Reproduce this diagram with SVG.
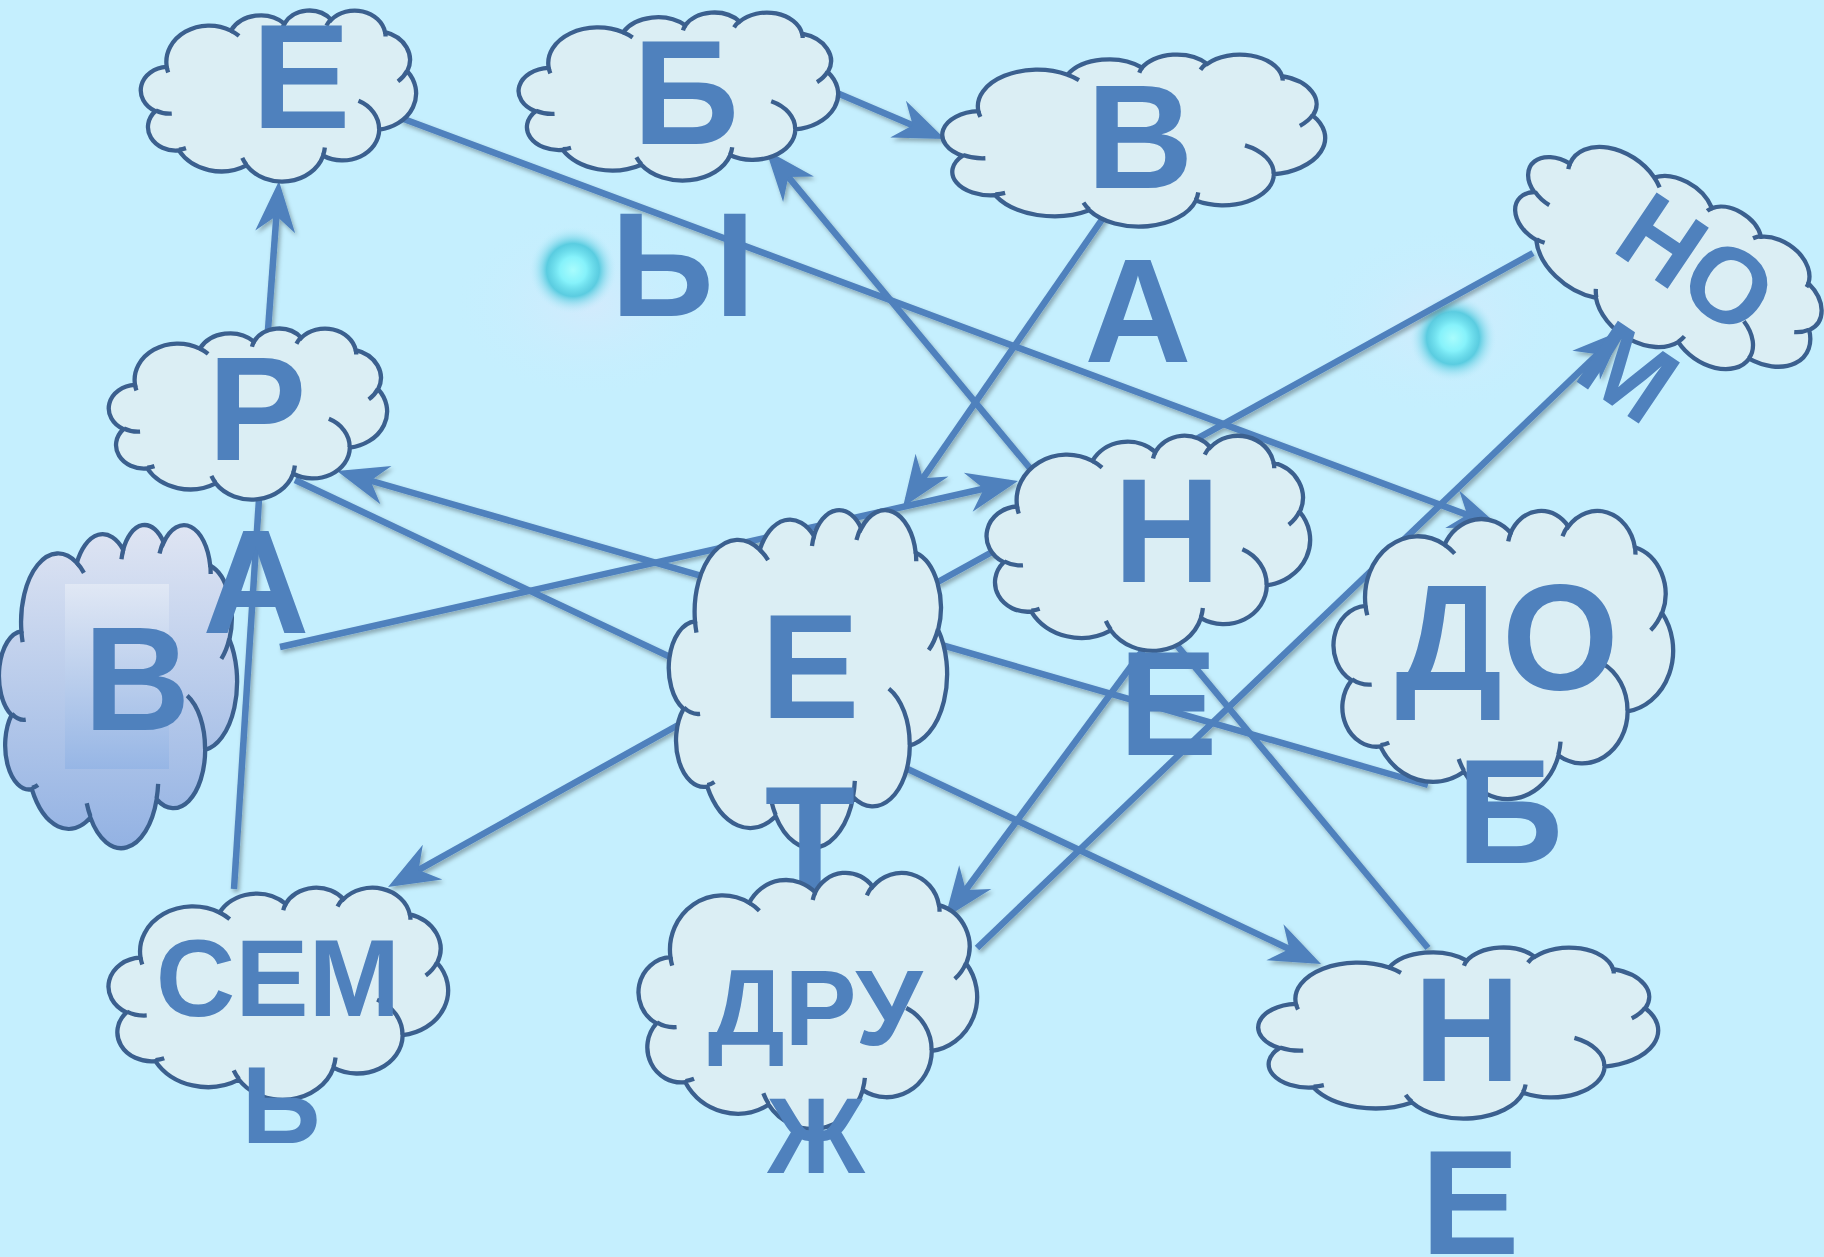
<svg xmlns="http://www.w3.org/2000/svg" xmlns:xlink="http://www.w3.org/1999/xlink" width="1824" height="1257" viewBox="0 0 1824 1257">
<style>
.t{font-family:"Liberation Sans",Arial,sans-serif;font-weight:bold;fill:#4f81bd;text-anchor:middle}
.big{font-size:148px}
.mid{font-size:110px}
.cloud{fill:#dbeef4;stroke:#3b608f;stroke-width:4.3}
.cloudg{fill:url(#gCloud);stroke:#3b608f;stroke-width:4.3}
.c{stroke:#4f81bd;stroke-width:6.5;fill:none}
.a{marker-end:url(#arr)}
</style>
<defs>
<g id="cloudShape">
<path vector-effect="non-scaling-stroke" d="M9.03,33.26 A15.63,21.27 0 0 1 32.42,12.04 A12.35,16.82 0 0 1 51.98,7.95 A10.1,13.76 0 0 1 69.06,5.75 A11.24,15.27 0 0 1 88.7,12.92 A12.35,16.84 0 0 1 96.8,35.79 A15.68,21.34 0 0 1 86.58,69.92 A13.39,18.21 0 0 1 66.1,85.22 A15.63,21.33 0 0 1 38.15,90.9 A17.87,24.41 0 0 1 13.43,82.11 A10.09,13.7 0 0 1 4.89,59.15 A10.06,13.76 0 0 1 9.03,33.26 Z"/>
<path vector-effect="non-scaling-stroke" fill="none" d="M10.86,60.6 A10.06,13.76 0 0 1 5,58.75 M16.04,80.78 A10.09,13.7 0 0 1 13.47,81.67 M38.14,90.49 A15.63,21.33 0 0 1 36.6,86.46 M66.73,80.44 A15.63,21.33 0 0 1 66.11,84.86 M79,53.13 A13.39,18.21 0 0 1 86.53,69.65 M96.75,35.54 A12.35,16.84 0 0 1 93.4,41.74 M88.71,12.56 A11.24,15.27 0 0 1 88.89,15.49 M67.31,9.15 A11.24,15.27 0 0 1 69.03,5.41 M51.25,10.93 A10.1,13.76 0 0 1 52.08,7.71 M32.41,12.02 A15.63,21.27 0 0 1 35.42,15.14 M9.55,36.55 A15.63,21.27 0 0 1 9.03,33.26"/>
</g>
<linearGradient id="gCloud" x1="0" y1="0" x2="0" y2="1">
<stop offset="0" stop-color="#dfe5f3"/>
<stop offset="1" stop-color="#93b2e3"/>
</linearGradient>
<linearGradient id="gRect" x1="0" y1="0" x2="0" y2="1">
<stop offset="0" stop-color="#e2e9f5"/>
<stop offset="1" stop-color="#95b5e5"/>
</linearGradient>
<radialGradient id="glow">
<stop offset="0" stop-color="#a8fcfd"/>
<stop offset="0.3" stop-color="#86f2fb"/>
<stop offset="0.6" stop-color="#3fc4d9" stop-opacity="0.8"/>
<stop offset="1" stop-color="#c5effe" stop-opacity="0"/>
</radialGradient>
<radialGradient id="halo">
<stop offset="0" stop-color="#d4eafc" stop-opacity="0.9"/>
<stop offset="1" stop-color="#c5effe" stop-opacity="0"/>
</radialGradient>
<filter id="sh" x="-5%" y="-5%" width="110%" height="110%">
<feDropShadow dx="2" dy="3" stdDeviation="2" flood-color="#000" flood-opacity="0.3"/>
</filter>
<marker id="arr" markerUnits="userSpaceOnUse" viewBox="-60 -25 70 50" refX="-9" refY="0" markerWidth="70" markerHeight="50" orient="auto" overflow="visible">
<path d="M0,0 L-51,-20 L-35,0 L-51,20 Z" fill="#4f81bd"/>
</marker>
</defs>
<rect width="1824" height="1257" fill="#c5effe"/>
<g id="decor">
<ellipse cx="590" cy="305" rx="140" ry="95" fill="url(#halo)"/>
<circle cx="573" cy="270" r="44" fill="url(#glow)"/>
<ellipse cx="1440" cy="320" rx="130" ry="95" fill="url(#halo)"/>
<circle cx="1453" cy="338" r="44" fill="url(#glow)"/>
</g>
<g id="connectors" filter="url(#sh)">
<line class="c a" x1="837" y1="93" x2="936.7" y2="135.5"/>
<line class="c a" x1="401" y1="118" x2="1491.6" y2="523.9"/>
<line class="c a" x1="268" y1="330" x2="278.3" y2="190"/>
<line class="c a" x1="1428" y1="948" x2="771.7" y2="156.9"/>
<line class="c a" x1="1110" y1="208" x2="908.1" y2="499.6"/>
<line class="c" x1="936" y1="583" x2="1533" y2="253"/>
<line class="c a" x1="977" y1="948" x2="1616.5" y2="336.2"/>
<line class="c a" x1="1428" y1="785" x2="345.6" y2="473.5"/>
<line class="c a" x1="295" y1="480" x2="1312.9" y2="960.2"/>
<line class="c a" x1="280" y1="647" x2="1009.2" y2="483"/>
<line class="c" x1="234" y1="889" x2="259" y2="499"/>
<line class="c a" x1="680" y1="724" x2="395.9" y2="882.6"/>
<line class="c a" x1="1180" y1="600" x2="950.3" y2="910.8"/>
</g>
<g id="node-E-top">
<use href="#cloudShape" class="cloud" transform="translate(142,10) scale(2.74,1.71)"/>
<text class="t big" x="301" y="128">Е</text>
</g>
<g id="node-B-top">
<use href="#cloudShape" class="cloud" transform="translate(520,12) scale(3.18,1.68)"/>
<text class="t big" x="686" y="144">Б</text>
<text class="t big" x="683" y="316">Ы</text>
</g>
<g id="node-V-top">
<use href="#cloudShape" class="cloud" transform="translate(944,54) scale(3.81,1.72)"/>
<text class="t big" x="1140" y="188">В</text>
<text class="t big" x="1138" y="362">А</text>
</g>
<g id="node-NO" transform="translate(1667,263) rotate(34)">
<use href="#cloudShape" class="cloud" transform="translate(-166,-84) scale(3.32,1.68)"/>
<text class="t" style="font-size:107px" x="25" y="21">НО</text>
<text class="t" style="font-size:107px" x="29" y="149">М</text>
</g>
<g id="node-R">
<use href="#cloudShape" class="cloud" transform="translate(110,328) scale(2.77,1.71)"/>
<text class="t big" x="257" y="460">Р</text>
</g>
<g id="node-V-left">
<use href="#cloudShape" class="cloudg" transform="translate(0,524) scale(2.37,3.23)"/>
<rect x="65" y="584" width="104" height="185" fill="url(#gRect)" opacity="0.9"/>
<text class="t big" x="137" y="730">В</text>
<text class="t big" x="256" y="633">А</text>
</g>
<g id="node-E-center">
<use href="#cloudShape" class="cloud" transform="translate(670,509) scale(2.77,3.38)"/>
<text class="t big" x="810" y="718">Е</text>
<text class="t big" x="810" y="890">Т</text>
</g>
<g id="node-N-mid">
<use href="#cloudShape" class="cloud" transform="translate(988,435) scale(3.22,2.15)"/>
<text class="t big" x="1167" y="582">Н</text>
<text class="t big" x="1168" y="755">Е</text>
</g>
<g id="node-DO">
<use href="#cloudShape" class="cloud" transform="translate(1335,510) scale(3.38,2.88)"/>
<text class="t" style="font-size:150px" x="1507" y="690">ДО</text>
<text class="t big" x="1510" y="863">Б</text>
</g>
<g id="node-SEM">
<use href="#cloudShape" class="cloud" transform="translate(110,887) scale(3.38,2.12)"/>
<text class="t mid" x="278" y="1016">СЕМ</text>
<text class="t mid" x="281" y="1143">Ь</text>
</g>
<g id="node-DRU">
<use href="#cloudShape" class="cloud" transform="translate(640,872) scale(3.37,2.56)"/>
<text class="t" style="font-size:108px" x="815" y="1045">ДРУ</text>
<text class="t" style="font-size:108px" x="816" y="1173">Ж</text>
</g>
<g id="node-N-bottom">
<use href="#cloudShape" class="cloud" transform="translate(1260,947) scale(3.98,1.71)"/>
<text class="t big" x="1467" y="1081">Н</text>
<text class="t big" x="1470" y="1254">Е</text>
</g>
</svg>
